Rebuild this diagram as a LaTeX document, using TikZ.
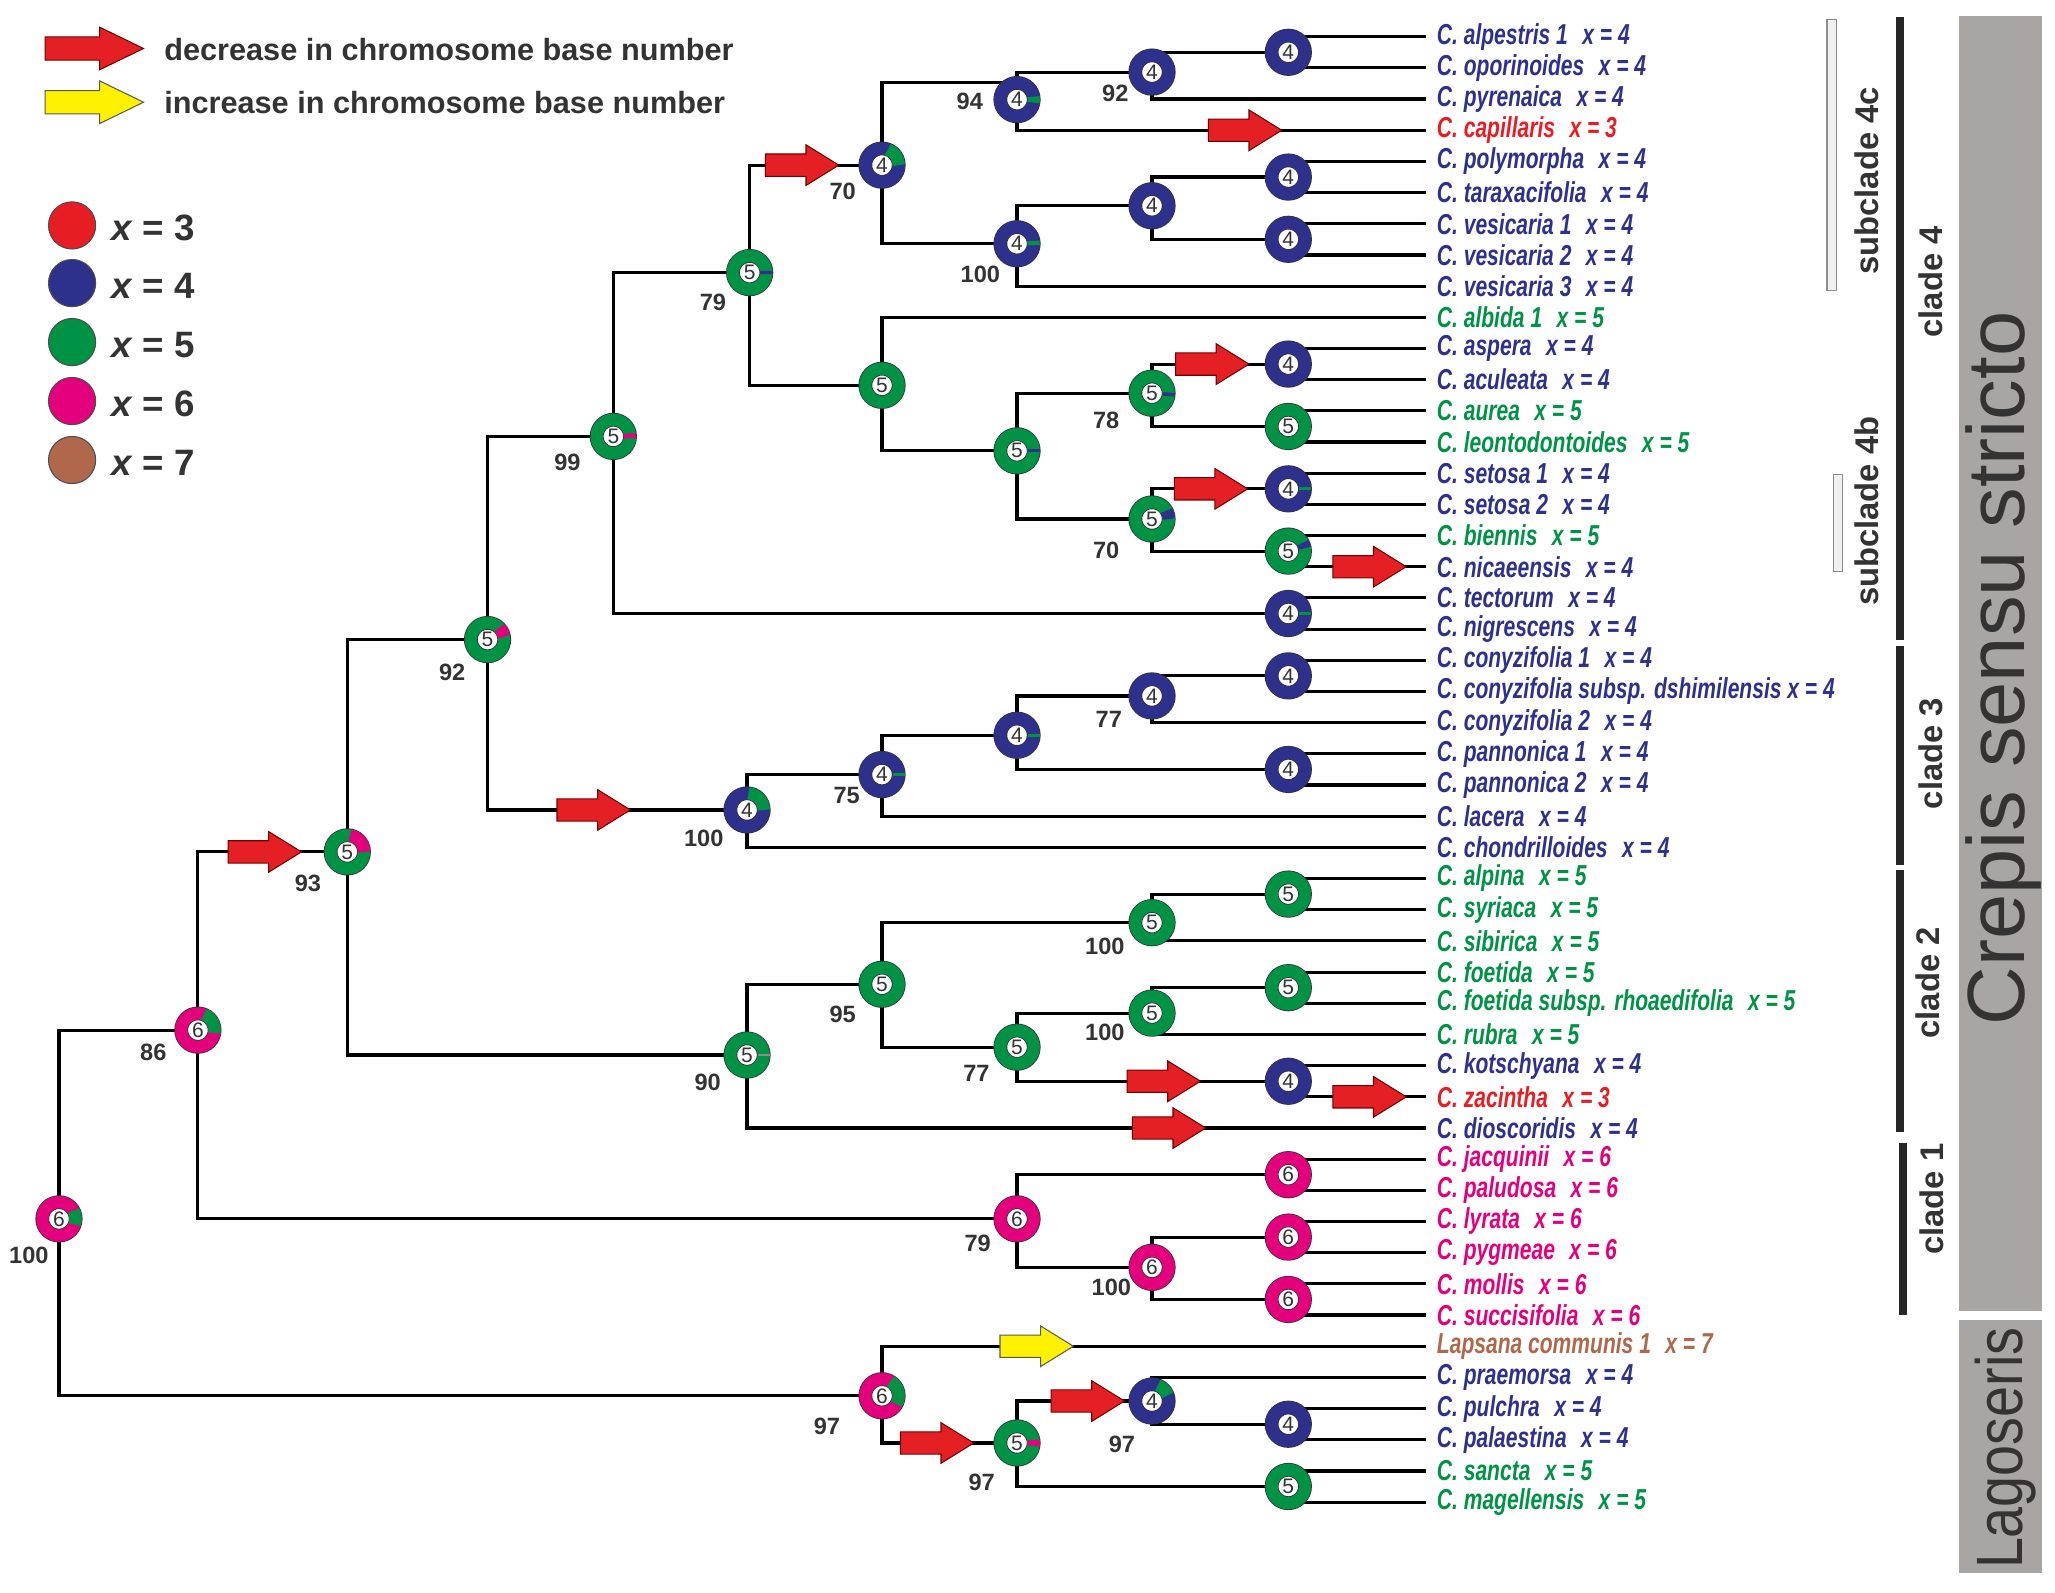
\documentclass[tikz,border=0pt]{standalone}
\usepackage{fontspec}
\setmainfont{Liberation Sans}
\setsansfont{Liberation Sans}
\newfontfamily\leaffont[FakeStretch=0.73]{Liberation Sans}
\newfontfamily\narrowfont[FakeStretch=0.85]{Liberation Sans}
\usetikzlibrary{calc}
\pgfdeclarelayer{background}
\pgfsetlayers{background,main}

\definecolor{xthree}{RGB}{230,30,36}
\definecolor{xfour}{RGB}{46,49,140}
\definecolor{xfive}{RGB}{0,146,69}
\definecolor{xsix}{RGB}{228,0,124}
\definecolor{xseven}{RGB}{176,104,76}
\definecolor{arrowred}{RGB}{228,32,36}
\definecolor{arrowyellow}{RGB}{255,242,0}
\definecolor{panel}{RGB}{168,166,164}
\definecolor{ink}{RGB}{51,51,51}

\tikzset{
  ring/.style={circle, draw=black!80, line width=0.3pt, double=#1,
    double distance=4.65pt, fill=white, inner sep=0pt, minimum size=12.75pt,
    font=\fontsize{8}{8}\selectfont, text=ink},
  leaf/.style={anchor=west, inner sep=4pt,
    font=\leaffont\bfseries\itshape\fontsize{11}{11}\selectfont},
  support/.style={font=\bfseries\fontsize{9}{9}\selectfont, text=ink, inner sep=0pt},
  branch/.style={line width=1.2pt, black},
  key/.style={circle, draw=black!70, line width=0.4pt, fill=#1, minimum size=18pt, inner sep=0pt},
  keytext/.style={anchor=west, inner sep=0pt, text=ink, font=\bfseries\fontsize{11.7}{12}\selectfont},
  keyx/.style={anchor=west, inner sep=0pt, text=ink, font=\bfseries\fontsize{14}{14}\selectfont},
  cladebar/.style={fill=black!85},
  subbar/.style={draw=black!45, fill=black!6, line width=0.4pt},
  cladetext/.style={rotate=90, text=ink, font=\bfseries\fontsize{12.5}{12.5}\selectfont},
  decr/.pic={\draw[fill=arrowred, draw=red!45!black, line width=0.4pt]
    (-28,-8.5) -- (3,-8.5) -- (3,-15.5) -- (28,0) -- (3,15.5) -- (3,8.5) -- (-28,8.5) -- cycle;},
  incr/.pic={\draw[fill=arrowyellow, draw=black!65, line width=0.4pt]
    (-28,-8.5) -- (3,-8.5) -- (3,-15.5) -- (28,0) -- (3,15.5) -- (3,8.5) -- (-28,8.5) -- cycle;}
}

\newcommand\Y{23.79}
\newcommand\leaf[4]{\node[leaf, text=#3] (#1) at (1088,{28+(#2-1)*\Y}) {#4};}
\newcommand\slice[4]{\draw[#4, line width=4.65pt] (#1.center) ++(#2:6.375pt)
  arc[start angle=#2, end angle=#3, radius=6.375pt];}

\begin{document}
\begin{tikzpicture}[x=0.5pt, y=-0.5pt]
  \useasboundingbox (0,0) rectangle (1568,1215);

  %% legend
  \pic[xscale=1.34, yscale=1.05] at (72,37) {decr};
  \pic[xscale=1.34, yscale=1.05] at (72,78) {incr};
  \node[keytext] (kdecr) at (125,38) {decrease in chromosome base number};
  \node[keytext] (kincr) at (125,78) {increase in chromosome base number};
  \node[key=xthree] (k3) at (55,172) {};
  \node[key=xfour]  (k4) at (55,216) {};
  \node[key=xfive]  (k5) at (55,261) {};
  \node[key=xsix]   (k6) at (55,306) {};
  \node[key=xseven] (k7) at (55,351) {};
  \node[keyx] (t3) at (85,174) {\itshape x\upshape{} = 3};
  \node[keyx] (t4) at (85,218) {\itshape x\upshape{} = 4};
  \node[keyx] (t5) at (85,263) {\itshape x\upshape{} = 5};
  \node[keyx] (t6) at (85,308) {\itshape x\upshape{} = 6};
  \node[keyx] (t7) at (85,353) {\itshape x\upshape{} = 7};

  %% leaves
  \leaf{alpestris}{1}{xfour}{C. alpestris 1\enspace x = 4}
  \leaf{oporinoides}{2}{xfour}{C. oporinoides\enspace x = 4}
  \leaf{pyrenaica}{3}{xfour}{C. pyrenaica\enspace x = 4}
  \leaf{capillaris}{4}{xthree}{C. capillaris\enspace x = 3}
  \leaf{polymorpha}{5}{xfour}{C. polymorpha\enspace x = 4}
  \leaf{taraxacifolia}{6}{xfour}{C. taraxacifolia\enspace x = 4}
  \leaf{vesicariaA}{7}{xfour}{C. vesicaria 1\enspace x = 4}
  \leaf{vesicariaB}{8}{xfour}{C. vesicaria 2\enspace x = 4}
  \leaf{vesicariaC}{9}{xfour}{C. vesicaria 3\enspace x = 4}
  \leaf{albida}{10}{xfive}{C. albida 1\enspace x = 5}
  \leaf{aspera}{11}{xfour}{C. aspera\enspace x = 4}
  \leaf{aculeata}{12}{xfour}{C. aculeata\enspace x = 4}
  \leaf{aurea}{13}{xfive}{C. aurea\enspace x = 5}
  \leaf{leontodontoides}{14}{xfive}{C. leontodontoides\enspace x = 5}
  \leaf{setosaA}{15}{xfour}{C. setosa 1\enspace x = 4}
  \leaf{setosaB}{16}{xfour}{C. setosa 2\enspace x = 4}
  \leaf{biennis}{17}{xfive}{C. biennis\enspace x = 5}
  \leaf{nicaeensis}{18}{xfour}{C. nicaeensis\enspace x = 4}
  \leaf{tectorum}{19}{xfour}{C. tectorum\enspace x = 4}
  \leaf{nigrescens}{20}{xfour}{C. nigrescens\enspace x = 4}
  \leaf{conyzifoliaA}{21}{xfour}{C. conyzifolia 1\enspace x = 4}
  \leaf{dshimilensis}{22}{xfour}{C. conyzifolia subsp. dshimilensis x = 4}
  \leaf{conyzifoliaB}{23}{xfour}{C. conyzifolia 2\enspace x = 4}
  \leaf{pannonicaA}{24}{xfour}{C. pannonica 1\enspace x = 4}
  \leaf{pannonicaB}{25}{xfour}{C. pannonica 2\enspace x = 4}
  \leaf{lacera}{26}{xfour}{C. lacera\enspace x = 4}
  \leaf{chondrilloides}{27}{xfour}{C. chondrilloides\enspace x = 4}
  \leaf{alpina}{28}{xfive}{C. alpina\enspace x = 5}
  \leaf{syriaca}{29}{xfive}{C. syriaca\enspace x = 5}
  \leaf{sibirica}{30}{xfive}{C. sibirica\enspace x = 5}
  \leaf{foetida}{31}{xfive}{C. foetida\enspace x = 5}
  \leaf{rhoaedifolia}{32}{xfive}{C. foetida subsp. rhoaedifolia\enspace x = 5}
  \leaf{rubra}{33}{xfive}{C. rubra\enspace x = 5}
  \leaf{kotschyana}{34}{xfour}{C. kotschyana\enspace x = 4}
  \leaf{zacintha}{35}{xthree}{C. zacintha\enspace x = 3}
  \leaf{dioscoridis}{36}{xfour}{C. dioscoridis\enspace x = 4}
  \leaf{jacquinii}{37}{xsix}{C. jacquinii\enspace x = 6}
  \leaf{paludosa}{38}{xsix}{C. paludosa\enspace x = 6}
  \leaf{lyrata}{39}{xsix}{C. lyrata\enspace x = 6}
  \leaf{pygmeae}{40}{xsix}{C. pygmeae\enspace x = 6}
  \leaf{mollis}{41}{xsix}{C. mollis\enspace x = 6}
  \leaf{succisifolia}{42}{xsix}{C. succisifolia\enspace x = 6}
  \leaf{lapsana}{43}{xseven}{Lapsana communis 1\enspace x = 7}
  \leaf{praemorsa}{44}{xfour}{C. praemorsa\enspace x = 4}
  \leaf{pulchra}{45}{xfour}{C. pulchra\enspace x = 4}
  \leaf{palaestina}{46}{xfour}{C. palaestina\enspace x = 4}
  \leaf{sancta}{47}{xfive}{C. sancta\enspace x = 5}
  \leaf{magellensis}{48}{xfive}{C. magellensis\enspace x = 5}

  %% internal nodes
  \node[ring=xsix]  (nRoot)    at (45,930)    {6};
  \node[ring=xsix]  (nCrep)    at (151,786)   {6};
  \node[ring=xfive] (nC234)    at (265,650)   {5};
  \node[ring=xfive] (nC34)     at (372,488)   {5};
  \node[ring=xfive] (nC4)      at (468,333)   {5};
  \node[ring=xfive] (nC4bc)    at (572,208)   {5};
  \node[ring=xfour] (nC4c)     at (673,126)   {4};
  \node[ring=xfour] (nPyr)     at (776,76)    {4};
  \node[ring=xfour] (nAlpPyr)  at (879,55)    {4};
  \node[ring=xfour] (pAlp)     at (983,39.9)  {4};
  \node[ring=xfour] (nVes)     at (776,186)   {4};
  \node[ring=xfour] (nPolVes)  at (879,157)   {4};
  \node[ring=xfour] (pPol)     at (983,135.1) {4};
  \node[ring=xfour] (pVes)     at (983,182.6) {4};
  \node[ring=xfive] (nC4b)     at (673,294)   {5};
  \node[ring=xfive] (nAspBie)  at (776,344)   {5};
  \node[ring=xfive] (nAspAur)  at (879,300)   {5};
  \node[ring=xfour] (pAsp)     at (983,277.8) {4};
  \node[ring=xfive] (pAur)     at (983,325.4) {5};
  \node[ring=xfive] (nSetBie)  at (879,396)   {5};
  \node[ring=xfour] (pSet)     at (983,373)   {4};
  \node[ring=xfive] (pBie)     at (983,420.5) {5};
  \node[ring=xfour] (pTec)     at (983,468.1) {4};
  \node[ring=xfour] (nC3)      at (570,618)   {4};
  \node[ring=xfour] (nConLac)  at (673,591)   {4};
  \node[ring=xfour] (nConPan)  at (776,561)   {4};
  \node[ring=xfour] (nConyz)   at (879,531)   {4};
  \node[ring=xfour] (pCon)     at (983,515.7) {4};
  \node[ring=xfour] (pPan)     at (983,587.1) {4};
  \node[ring=xfive] (nC2)      at (570,805)   {5};
  \node[ring=xfive] (nAlpiKot) at (673,751)   {5};
  \node[ring=xfive] (nAlpiSib) at (879,704)   {5};
  \node[ring=xfive] (pAlpi)    at (983,682.2) {5};
  \node[ring=xfive] (nFoeKot)  at (776,799)   {5};
  \node[ring=xfive] (nFoeRub)  at (879,773)   {5};
  \node[ring=xfive] (pFoe)     at (983,753.6) {5};
  \node[ring=xfour] (pKot)     at (983,825)   {4};
  \node[ring=xsix]  (nC1)      at (776,930)   {6};
  \node[ring=xsix]  (pJac)     at (983,896.3) {6};
  \node[ring=xsix]  (nLyrMol)  at (879,967)   {6};
  \node[ring=xsix]  (pLyr)     at (983,943.9) {6};
  \node[ring=xsix]  (pMol)     at (983,991.5) {6};
  \node[ring=xsix]  (nLago)    at (673,1065)  {6};
  \node[ring=xfive] (nPraeSan) at (776,1101)  {5};
  \node[ring=xfour] (nPrae)    at (879,1069)  {4};
  \node[ring=xfour] (pPul)     at (983,1086.7) {4};
  \node[ring=xfive] (pSan)     at (983,1134.2) {5};
  \coordinate (stub) at (28,930);

  %% minor states in the rings
  \slice{nRoot}{-20}{30}{xfive}
  \slice{nCrep}{-10}{70}{xfive}
  \slice{nC234}{0}{80}{xsix}
  \slice{nC34}{10}{45}{xsix}
  \slice{nC4}{-6}{10}{xsix}
  \slice{nC4bc}{-5}{6}{xfour}
  \slice{nC4c}{0}{70}{xfive}
  \slice{nPyr}{-10}{10}{xfive}
  \slice{nVes}{-5}{10}{xfive}
  \slice{nAspBie}{-5}{5}{xfour}
  \slice{nAspAur}{-10}{2}{xfour}
  \slice{nSetBie}{0}{30}{xfour}
  \slice{pBie}{10}{30}{xfour}
  \slice{pSet}{-5}{5}{xfive}
  \slice{pTec}{-5}{5}{xfive}
  \slice{nC3}{0}{85}{xfive}
  \slice{nConLac}{-5}{5}{xfive}
  \slice{nConPan}{-5}{5}{xfive}
  \slice{nC2}{-5}{5}{black!45}
  \slice{nLago}{-30}{60}{xfive}
  \slice{nPraeSan}{-10}{10}{xsix}
  \slice{nPrae}{20}{70}{xfive}

  %% support values
  \node[support] (bRoot)    at (22,958)  {100};
  \node[support] (bCrep)    at (117,803) {86};
  \node[support] (bC234)    at (235,674) {93};
  \node[support] (bC34)     at (345,513) {92};
  \node[support] (bC4)      at (433,353) {99};
  \node[support] (bC4bc)    at (544,231) {79};
  \node[support] (bC4c)     at (643,146) {70};
  \node[support] (bPyr)     at (740,77)  {94};
  \node[support] (bAlpPyr)  at (851,71)  {92};
  \node[support] (bVes)     at (748,209) {100};
  \node[support] (bAspAur)  at (844,321) {78};
  \node[support] (bSetBie)  at (844,420) {70};
  \node[support] (bC3)      at (537,640) {100};
  \node[support] (bConLac)  at (646,607) {75};
  \node[support] (bConyz)   at (846,549) {77};
  \node[support] (bAlpiSib) at (843,722) {100};
  \node[support] (bAlpiKot) at (643,774) {95};
  \node[support] (bFoeRub)  at (843,788) {100};
  \node[support] (bFoeKot)  at (745,819) {77};
  \node[support] (bC2)      at (540,826) {90};
  \node[support] (bC1)      at (746,949) {79};
  \node[support] (bLyrMol)  at (848,982) {100};
  \node[support] (bLago)    at (631,1088) {97};
  \node[support] (bPraeSan) at (749,1131) {97};
  \node[support] (bPrae)    at (856,1102) {97};

  %% branches
  \begin{pgfonlayer}{background}
    \draw[branch] (nRoot.center) -- (stub);
    \foreach \p/\c in {nRoot/nCrep, nRoot/nLago, nCrep/nC234, nCrep/nC1,
        nC234/nC34, nC234/nC2, nC34/nC4, nC34/nC3, nC4/nC4bc, nC4/pTec,
        nC4bc/nC4c, nC4bc/nC4b, nC4c/nVes, nPyr/nAlpPyr, nPyr/capillaris,
        nAlpPyr/pAlp, nAlpPyr/pyrenaica, pAlp/alpestris, pAlp/oporinoides,
        nVes/nPolVes, nVes/vesicariaC, nPolVes/pPol, nPolVes/pVes,
        pPol/polymorpha, pPol/taraxacifolia, pVes/vesicariaA, pVes/vesicariaB,
        nC4b/albida, nC4b/nAspBie, nAspBie/nAspAur, nAspBie/nSetBie,
        nAspAur/pAsp, nAspAur/pAur, pAsp/aspera, pAsp/aculeata,
        pAur/aurea, pAur/leontodontoides, nSetBie/pSet, nSetBie/pBie,
        pSet/setosaA, pSet/setosaB, pBie/biennis, pBie/nicaeensis,
        pTec/tectorum, pTec/nigrescens,
        nC3/nConLac, nC3/chondrilloides, nConLac/nConPan, nConLac/lacera,
        nConPan/nConyz, nConPan/pPan, nConyz/pCon, nConyz/conyzifoliaB,
        pCon/conyzifoliaA, pCon/dshimilensis, pPan/pannonicaA, pPan/pannonicaB,
        nC2/nAlpiKot, nC2/dioscoridis, nAlpiKot/nAlpiSib, nAlpiKot/nFoeKot,
        nAlpiSib/pAlpi, nAlpiSib/sibirica, pAlpi/alpina, pAlpi/syriaca,
        nFoeKot/nFoeRub, nFoeKot/pKot, nFoeRub/pFoe, nFoeRub/rubra,
        pFoe/foetida, pFoe/rhoaedifolia, pKot/kotschyana, pKot/zacintha,
        nC1/pJac, nC1/nLyrMol, pJac/jacquinii, pJac/paludosa,
        nLyrMol/pLyr, nLyrMol/pMol, pLyr/lyrata, pLyr/pygmeae,
        pMol/mollis, pMol/succisifolia,
        nLago/lapsana, nLago/nPraeSan, nPraeSan/nPrae, nPraeSan/pSan,
        nPrae/praemorsa, nPrae/pPul, pPul/pulchra, pPul/palaestina,
        pSan/sancta, pSan/magellensis}
      \draw[branch] (\p.center) |- (\c);
    \draw[branch] (nC4c.center) |- (nPyr.north); %% 70 -> 94
  \end{pgfonlayer}

  %% changes of base number
  \pic at (612,126) {decr};    %% 79 -> 70
  \pic at (950,99.4) {decr};   %% capillaris
  \pic at (925,277.8) {decr};  %% aspera
  \pic at (924,373) {decr};    %% setosa
  \pic at (1045,432.4) {decr}; %% nicaeensis
  \pic at (453,618) {decr};    %% clade 3
  \pic at (202,650) {decr};    %% 86 -> 93
  \pic at (888,825) {decr};    %% kotschyana
  \pic at (1045,836.9) {decr}; %% zacintha
  \pic at (892,860.7) {decr};  %% dioscoridis
  \pic at (791,1027.2) {incr}; %% lapsana
  \pic at (715,1101) {decr};   %% 97 -> 97
  \pic at (830,1069) {decr};   %% 97 -> 97

  %% clades
  \draw[subbar] (1394,15) rectangle (1401,222);
  \draw[subbar] (1399,362) rectangle (1406,436);
  \fill[cladebar] (1447,13) rectangle (1453,488);
  \fill[cladebar] (1447,493) rectangle (1453,660);
  \fill[cladebar] (1447,664) rectangle (1453,864);
  \fill[cladebar] (1449,872) rectangle (1455,1003);
  \fill[panel] (1495,12) rectangle (1558,1000);
  \fill[panel] (1495,1007) rectangle (1558,1200);
  \node[cladetext] (sub4c) at (1424,138) {subclade 4c};
  \node[cladetext] (sub4b) at (1424,390) {subclade 4b};
  \node[cladetext] (cl4) at (1473,215) {clade 4};
  \node[cladetext] (cl3) at (1473,575) {clade 3};
  \node[cladetext] (cl2) at (1471,750) {clade 2};
  \node[cladetext] (cl1) at (1474,915) {clade 1};
  \node[rotate=90, text=ink, font=\fontsize{31}{31}\selectfont] (crepis) at (1529,510) {Crepis sensu stricto};
  \node[rotate=90, text=ink, font=\narrowfont\fontsize{25}{25}\selectfont] (lago) at (1530,1105) {Lagoseris};
\end{tikzpicture}
\end{document}
